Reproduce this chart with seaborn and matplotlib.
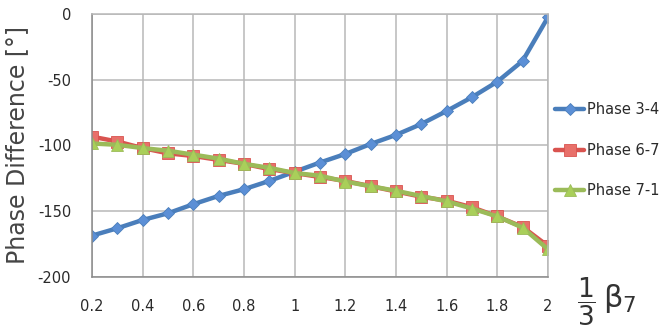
import numpy as np
import pandas as pd
import seaborn as sns
import matplotlib.pyplot as plt
import matplotlib as mpl

sns.set_style("whitegrid", {"grid.color": "#b8b8b8", "axes.edgecolor": "#b8b8b8"})
mpl.rcParams["font.family"] = ["DejaVu Sans"]
mpl.rcParams["mathtext.fontset"] = "dejavusans"
mpl.rcParams["axes.unicode_minus"] = False

# ----------------------------
# data
# ----------------------------
beta = [0.2, 0.3, 0.4, 0.5, 0.6, 0.7, 0.8, 0.9, 1.0, 1.1,
        1.2, 1.3, 1.4, 1.5, 1.6, 1.7, 1.8, 1.9, 2.0]
phase_34 = [-168.6, -163, -156.7, -151.6, -144.7, -138.4, -133.3, -127, -120, -113,
            -106.5, -98.9, -92, -83.7, -73.8, -63.3, -51.5, -35.7, -2.5]
phase_67 = [-93.3, -97, -102, -106, -108, -111, -114, -118, -121, -124,
            -127, -131, -135, -139, -142, -147, -154, -162, -176.5]
phase_71 = [-98.5, -99.5, -102, -104, -107, -110, -114, -117, -121, -123,
            -127.5, -131, -134.5, -138.5, -142.5, -148, -154, -162.5, -179]
series_names = ["Phase 3-4", "Phase 6-7", "Phase 7-1"]

df = pd.DataFrame({
    "beta": beta * 3,
    "phase": phase_34 + phase_67 + phase_71,
    "series": [series_names[0]] * len(beta) + [series_names[1]] * len(beta) + [series_names[2]] * len(beta),
})

palette = {"Phase 3-4": "#4a7ebb", "Phase 6-7": "#d9534f", "Phase 7-1": "#9bbb59"}
marker_face = {"Phase 3-4": "#5b8fd6", "Phase 6-7": "#e8706a", "Phase 7-1": "#a9cf5a"}
markers = {"Phase 3-4": "D", "Phase 6-7": "s", "Phase 7-1": "^"}
msize = {"Phase 3-4": 6.5, "Phase 6-7": 8, "Phase 7-1": 8}

fig = plt.figure(figsize=(6.69, 3.34), dpi=100)
ax = fig.add_axes([0.1375, 0.171, 0.6815, 0.787])

for name in series_names:
    sub = df[df["series"] == name]
    sns.lineplot(data=sub, x="beta", y="phase", ax=ax, color=palette[name],
                 linewidth=3.2, marker=markers[name], markersize=msize[name],
                 markerfacecolor=marker_face[name], markeredgecolor=palette[name],
                 markeredgewidth=0.6, label=name, legend=False)

ax.set_xlim(0.2, 2.0)
ax.set_ylim(-200, 0)
ax.set_xticks(np.arange(0.2, 2.01, 0.2))
ax.set_xticklabels(["0.2", "0.4", "0.6", "0.8", "1", "1.2", "1.4", "1.6", "1.8", "2"])
ax.set_yticks([0, -50, -100, -150, -200])
ax.tick_params(axis="both", labelsize=10.5, length=0, labelcolor="#2a2a2a")
ax.tick_params(axis="x", pad=16)
ax.tick_params(axis="y", pad=15)
ax.grid(True, color="#b8b8b8", linewidth=1.1)
ax.set_axisbelow(True)
for s in ax.spines.values():
    s.set_color("#b8b8b8")
    s.set_linewidth(1.1)
ax.spines["left"].set_color("#8a8a8a")
ax.spines["bottom"].set_color("#8a8a8a")
ax.set_xlabel("")
ax.set_ylabel("Phase Difference [°]", fontsize=17, color="#454545", labelpad=6)

handles, labels = ax.get_legend_handles_labels()
leg = fig.legend(handles, labels, loc="center left", bbox_to_anchor=(0.829, 0.55),
                 frameon=False, fontsize=10.5, labelspacing=1.75, handlelength=2.05,
                 handletextpad=0.2, borderpad=0, borderaxespad=0)
for t in leg.get_texts():
    t.set_color("#2a2a2a")

# x-axis label: (1/3) beta_7 drawn at the lower right
fig.text(0.876, 0.096, r"$\dfrac{1}{3}$", fontsize=19, ha="center",
         va="center", color="#333333")
fig.text(0.902, 0.105, "β$_7$", fontsize=22, ha="left",
         va="center", color="#333333")

plt.savefig("out.png", dpi=100)
